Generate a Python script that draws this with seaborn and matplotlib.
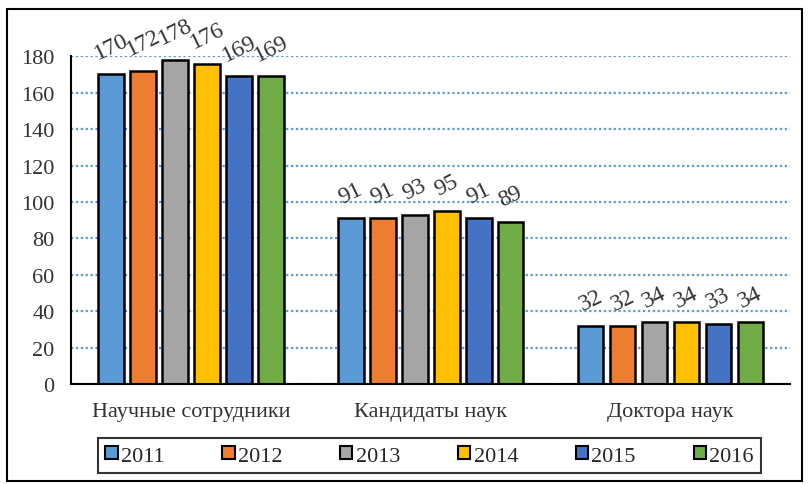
import numpy as np
import pandas as pd
import matplotlib
matplotlib.use('Agg')
import matplotlib.pyplot as plt
import seaborn as sns
from matplotlib.patches import Rectangle

categories = ['Научные сотрудники', 'Кандидаты наук', 'Доктора наук']
years = ['2011', '2012', '2013', '2014', '2015', '2016']
vals_2011 = [170, 91, 32]
vals_2012 = [172, 91, 32]
vals_2013 = [178, 93, 34]
vals_2014 = [176, 95, 34]
vals_2015 = [169, 91, 33]
vals_2016 = [169, 89, 34]
colors = ['#5B9BD5', '#ED7D31', '#A5A5A5', '#FFC000', '#4472C4', '#70AD47']

series = [vals_2011, vals_2012, vals_2013, vals_2014, vals_2015, vals_2016]
df = pd.DataFrame([
    {'cat': c, 'year': y, 'val': s[i]}
    for y, s in zip(years, series)
    for i, c in enumerate(categories)
])

sns.set_theme(style='white')
plt.rcParams['font.family'] = ['Liberation Serif', 'DejaVu Serif']

fig = plt.figure(figsize=(8.09, 4.85), dpi=100)
ax = fig.add_axes([0.088, 0.206, 0.889, 0.676])

sns.barplot(data=df, x='cat', y='val', hue='year', palette=colors,
            order=categories, hue_order=years, width=0.8, gap=0.2,
            saturation=1, edgecolor='black', linewidth=1.8, ax=ax, legend=True)

for cont in ax.containers:
    ax.bar_label(cont, labels=[f'{v:.0f}' for v in cont.datavalues],
                 padding=8, rotation=26, fontsize=17, clip_on=False,
                 color='#333333')

ax.set_ylim(0, 180)
ax.set_xlim(-0.5, 2.5)
ax.set_yticks(np.arange(0, 181, 20))
ax.yaxis.grid(True, linestyle=(0, (1, 1.2)), color='#5B9BD5', linewidth=1.6)
ax.set_axisbelow(True)
ax.tick_params(axis='both', length=0, labelsize=16, colors='#333333')
ax.tick_params(axis='x', pad=13)
ax.tick_params(axis='y', pad=12)
ax.set_xlabel('')
ax.set_ylabel('')
for side in ['top', 'right']:
    ax.spines[side].set_visible(False)
for side in ['left', 'bottom']:
    ax.spines[side].set_color('black')
    ax.spines[side].set_linewidth(1.5)

handles, labels = ax.get_legend_handles_labels()
ax.legend_.remove()
for h in handles:
    h.set_linewidth(1.5)
leg = fig.legend(handles, labels, loc='center', bbox_to_anchor=(0.531, 0.058),
                 ncol=6, frameon=True, fontsize=16, handlelength=0.55,
                 handleheight=0.55, handletextpad=0.15, columnspacing=2.6,
                 fancybox=False, borderpad=0.35, borderaxespad=0)
leg.get_frame().set_edgecolor('black')
leg.get_frame().set_linewidth(1.5)

fig.patches.append(Rectangle((0.009, 0.006), 0.982, 0.973, transform=fig.transFigure,
                             fill=False, edgecolor='black', linewidth=1.5))

fig.savefig('out.png', dpi=100)
